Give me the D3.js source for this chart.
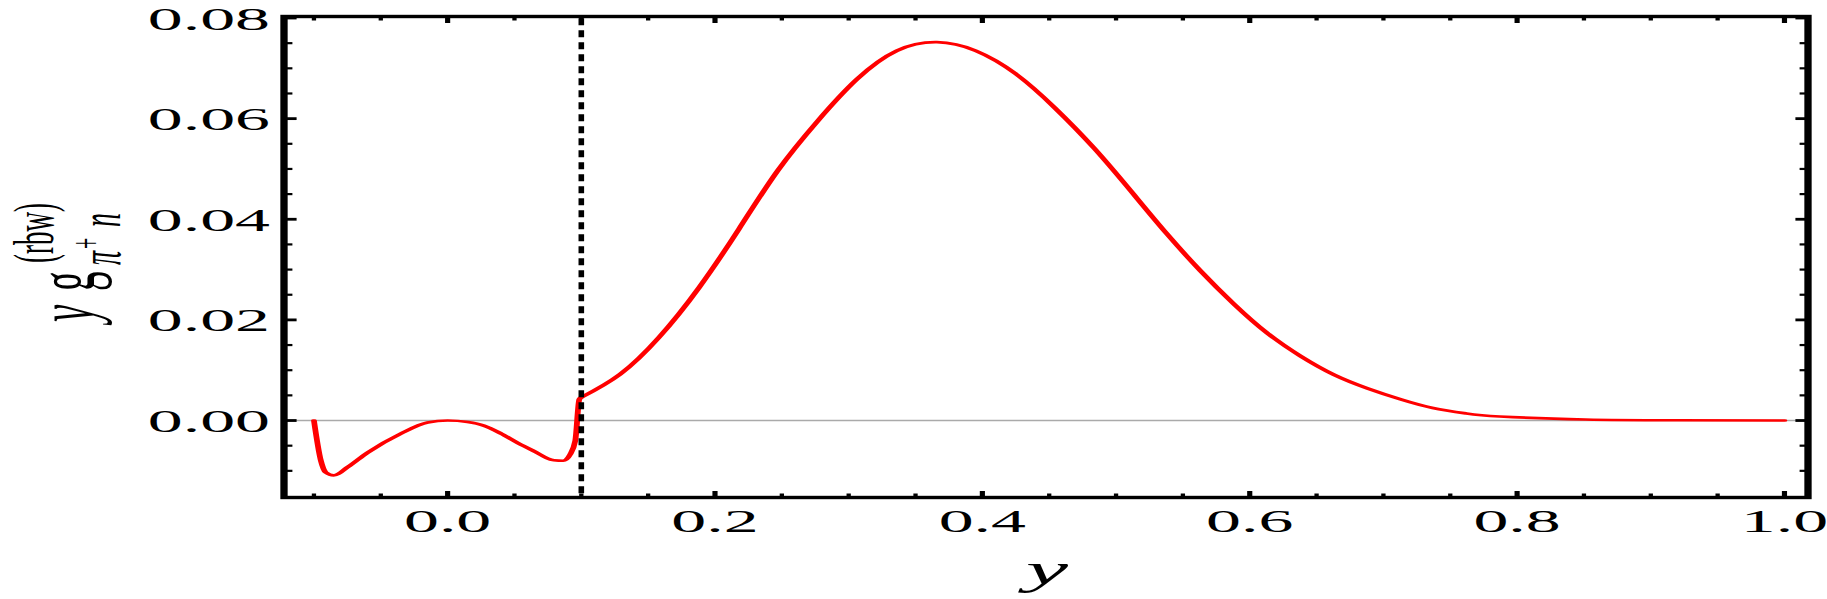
<!DOCTYPE html>
<html><head><meta charset="utf-8">
<script src="https://cdn.jsdelivr.net/npm/d3@7/dist/d3.min.js"></script>
<style>body{margin:0;background:#fff}svg{display:block}</style>
</head><body>
<svg id="chart" width="1827" height="599"></svg>
<script>
// ---- data ----
const curveX = [-0.1, -0.0949, -0.0912, -0.0852, -0.075, -0.06, -0.035, -0.015, 0, 0.015, 0.027, 0.04, 0.052, 0.064, 0.0795, 0.0865, 0.0915, 0.0955, 0.0985, 0.1,
  0.129, 0.158, 0.188, 0.218, 0.247, 0.277, 0.306, 0.336, 0.366, 0.395, 0.425, 0.454, 0.484, 0.513, 0.538, 0.563, 0.588, 0.613, 0.638, 0.663, 0.688, 0.713, 0.737, 0.762, 0.787, 0.851, 0.92, 1.0];
const curveY = [0, -0.0079, -0.0103, -0.0109, -0.0093, -0.0064, -0.0026, -0.0004, 0, -0.0003, -0.0010, -0.0026, -0.0044, -0.0060, -0.0079, -0.0080, -0.0068, -0.0040, 0.0042, 0.0046,
  0.0092, 0.0165, 0.0264, 0.0381, 0.0497, 0.0596, 0.0678, 0.0735, 0.0752, 0.0735, 0.0689, 0.0622, 0.0540, 0.0450, 0.0371, 0.0298, 0.0232, 0.0174, 0.0128, 0.0091, 0.0064, 0.0042, 0.0025, 0.0014, 0.0008, 0.0002, 0.00005, 0];
const thresholdX = [0.1];
const xMajorTicks = [0, 0.2, 0.4, 0.6, 0.8, 1.0];
const xTickLabels = ["0.0", "0.2", "0.4", "0.6", "0.8", "1.0"];
const xMinorTicks = [-0.1, -0.05, 0.05, 0.1, 0.15, 0.25, 0.3, 0.35, 0.45, 0.5, 0.55, 0.65, 0.7, 0.75, 0.85, 0.9, 0.95];
const yMajorTicks = [0, 0.02, 0.04, 0.06, 0.08];
const yTickLabels = ["0.00", "0.02", "0.04", "0.06", "0.08"];
const yMinorTicks = [-0.01, -0.005, 0.005, 0.01, 0.015, 0.025, 0.03, 0.035, 0.045, 0.05, 0.055, 0.065, 0.07, 0.075];
const xDomain = [-0.1224, 1.0176];
const yDomain = [-0.0153, 0.0803];

// ---- layout ----
const S = 2.15; // the reference is stretched horizontally
const svg = d3.select("#chart");
const g = svg.append("g").attr("transform", `scale(${S},1)`);
const x = d3.scaleLinear().domain(xDomain).range([284 / S, 1808 / S]);
const y = d3.scaleLinear().domain(yDomain).range([497.5, 16.5]);
const FONT = "'Liberation Serif','Times New Roman',serif";
const x0 = x(xDomain[0]), x1 = x(xDomain[1]), yT = y(yDomain[1]), yB = y(yDomain[0]);
const fw = 3.4;

// zero axis line
g.append("line").attr("x1", x0).attr("x2", x1).attr("y1", y(0)).attr("y2", y(0))
  .attr("stroke", "#aaaaaa").attr("stroke-width", 1.3);

// curve: below-threshold part (coarsely sampled) and above-threshold part (smooth)
const pts = curveX.map((d, i) => [d, curveY[i]]);
const leftPts = pts.filter(d => d[0] <= thresholdX[0]);
const rightPts = pts.filter(d => d[0] >= thresholdX[0]);
const lineL = d3.line().x(d => x(d[0])).y(d => y(d[1])).curve(d3.curveMonotoneX);
const lineR = d3.line().x(d => x(d[0])).y(d => y(d[1])).curve(d3.curveNatural);
[[leftPts, lineL], [rightPts, lineR]].forEach(([p, ln]) => {
  g.append("path").datum(p).attr("d", ln)
    .attr("fill", "none").attr("stroke", "#ff0000").attr("stroke-width", 2.7)
    .attr("stroke-linejoin", "round").attr("stroke-linecap", "round");
});

// threshold dashed line
g.selectAll("line.thr").data(thresholdX).join("line").attr("class", "thr")
  .attr("x1", d => x(d)).attr("x2", d => x(d)).attr("y1", yT + fw / 2).attr("y2", yB - fw / 2)
  .attr("stroke", "#000").attr("stroke-width", 2.6).attr("stroke-dasharray", "7,5");

// ticks
function yTicks(vals, len, w) {
  g.append("g").selectAll("line").data(vals).join("line")
    .attr("x1", x0).attr("x2", x0 + len / S * 2.1).attr("y1", d => y(d)).attr("y2", d => y(d))
    .attr("stroke", "#000").attr("stroke-width", w);
  g.append("g").selectAll("line").data(vals).join("line")
    .attr("x1", x1).attr("x2", x1 - len / S * 2.1).attr("y1", d => y(d)).attr("y2", d => y(d))
    .attr("stroke", "#000").attr("stroke-width", w);
}
function xTicks(vals, len, w) {
  g.append("g").selectAll("line").data(vals).join("line")
    .attr("x1", d => x(d)).attr("x2", d => x(d)).attr("y1", yB).attr("y2", yB - len)
    .attr("stroke", "#000").attr("stroke-width", w);
  g.append("g").selectAll("line").data(vals).join("line")
    .attr("x1", d => x(d)).attr("x2", d => x(d)).attr("y1", yT).attr("y2", yT + len)
    .attr("stroke", "#000").attr("stroke-width", w);
}
yTicks(yMajorTicks, 6, 2.8);
yTicks(yMinorTicks, 4, 2.2);
xTicks(xMajorTicks, 6.5, 2.4);
xTicks(xMinorTicks, 4, 2.0);

// frame
g.append("rect").attr("x", x0).attr("y", yT).attr("width", x1 - x0).attr("height", yB - yT)
  .attr("fill", "none").attr("stroke", "#000").attr("stroke-width", fw);

// tick labels
g.append("g").selectAll("text").data(yMajorTicks).join("text")
  .attr("x", 125.6).attr("y", d => y(d) + 11.5).attr("text-anchor", "end")
  .attr("font-family", FONT).attr("font-size", 32.5).attr("fill", "#000")
  .text((d, i) => yTickLabels[i]);
g.append("g").selectAll("text").data(xMajorTicks).join("text")
  .attr("x", d => x(d)).attr("y", 532).attr("text-anchor", "middle")
  .attr("font-family", FONT).attr("font-size", 32.5).attr("fill", "#000")
  .text((d, i) => xTickLabels[i]);

// x axis title
g.append("text").attr("x", 1047 / S).attr("y", 584).attr("text-anchor", "middle")
  .attr("font-family", FONT).attr("font-style", "italic").attr("font-size", 44).text("y");

// y axis title: y g_{π+ n}^{(rbw)}
const lab = g.append("g").attr("transform", "translate(43.5,322) rotate(-90)")
  .attr("font-family", FONT).attr("fill", "#000");
lab.append("text").attr("x", 0).attr("y", 0).attr("font-style", "italic").attr("font-size", 39).text("y");
lab.append("text").attr("x", 31).attr("y", 0).attr("font-size", 39).text("g");
lab.append("text").attr("x", 59).attr("y", -19).attr("font-size", 27).text("(rbw)");
lab.append("text").attr("x", 57).attr("y", 12.3).attr("font-style", "italic").attr("font-size", 28).text("π");
lab.append("text").attr("x", 73).attr("y", 3).attr("font-size", 20).text("+");
lab.append("text").attr("x", 95).attr("y", 12.3).attr("font-style", "italic").attr("font-size", 28).text("n");
</script>
</body></html>
